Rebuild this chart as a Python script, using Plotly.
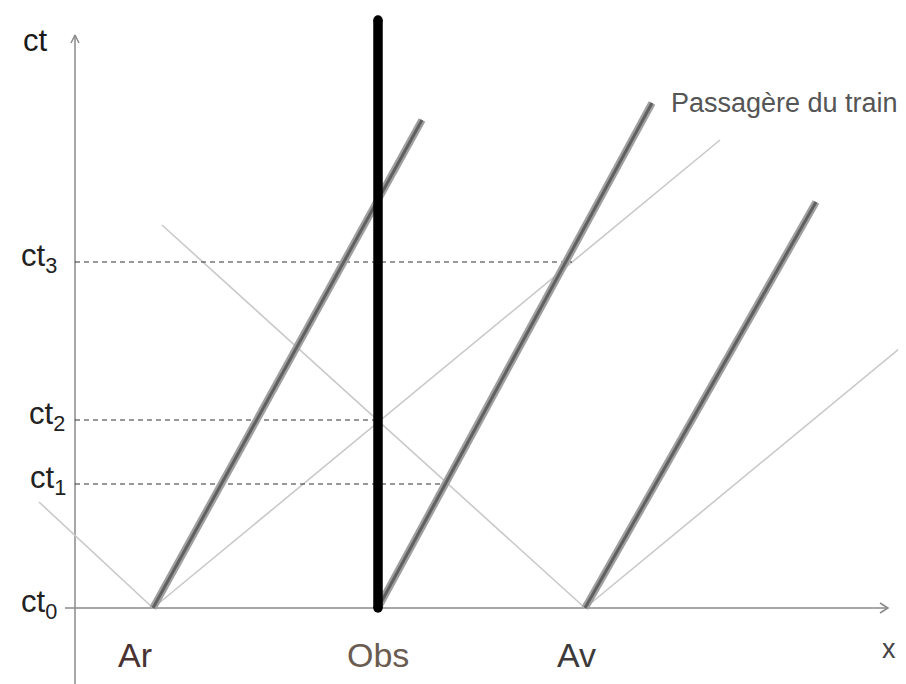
import plotly.graph_objects as go

# ---- data (units: diagram units, origin at axis crossing) ----
event_names = ["Ar", "Obs", "Av"]
event_x = [78, 303, 510]                 # positions on the x axis at ct0

ct_labels = ["ct<sub>0</sub>", "ct<sub>1</sub>", "ct<sub>2</sub>", "ct<sub>3</sub>"]
ct_values = [0, 124, 188, 346]
ct_dash_end_x = [0, 371, 303, 497]       # where each dashed guide stops (ct0 has none)

# train worldlines (start at events, end points)
train_end_x = [347, 577, 741]
train_end_y = [488, 505, 406]

# observer worldline
obs_top_y = 588

# light rays: emitted from Ar and Av, left and right
ray_src = ["Ar", "Ar", "Av", "Av"]
ray_end_x = [-36, 645, 87, 870]
ray_end_y = [106, 468, 383, 297]

# axes extents
xaxis_span = [-10, 813]
yaxis_span = [-90, 573]

fig = go.Figure()

AX = "#8a8a8a"
# axes
fig.add_trace(go.Scatter(x=xaxis_span, y=[0, 0], mode="lines",
                         line=dict(color=AX, width=1.5), hoverinfo="skip"))
fig.add_trace(go.Scatter(x=[0, 0], y=yaxis_span, mode="lines",
                         line=dict(color=AX, width=1.5), hoverinfo="skip"))
# arrow heads (open chevrons)
xe = xaxis_span[1]
fig.add_trace(go.Scatter(x=[xe - 8, xe, xe - 8], y=[5, 0, -5], mode="lines",
                         line=dict(color=AX, width=1.5), hoverinfo="skip"))
ye = yaxis_span[1]
fig.add_trace(go.Scatter(x=[-4, 0, 4], y=[ye - 8, ye, ye - 8], mode="lines",
                         line=dict(color=AX, width=1.5), hoverinfo="skip"))

# light rays
ex = dict(zip(event_names, event_x))
for s, x1, y1 in zip(ray_src, ray_end_x, ray_end_y):
    fig.add_trace(go.Scatter(x=[ex[s], x1], y=[0, y1], mode="lines",
                             line=dict(color="#c9c9c9", width=1.6), hoverinfo="skip"))

# dashed guides
for v, xe_ in zip(ct_values[1:], ct_dash_end_x[1:]):
    fig.add_trace(go.Scatter(x=[0, xe_], y=[v, v], mode="lines",
                             line=dict(color="#333333", width=1.2, dash="5px,4px"),
                             hoverinfo="skip"))

# train worldlines
for x0, x1, y1 in zip(event_x, train_end_x, train_end_y):
    fig.add_trace(go.Scatter(x=[x0, x1], y=[0, y1], mode="lines",
                             line=dict(color="#a0a0a0", width=7.5), hoverinfo="skip"))
    fig.add_trace(go.Scatter(x=[x0, x1], y=[0, y1], mode="lines",
                             line=dict(color="#606060", width=3), hoverinfo="skip"))

# observer worldline
fig.add_trace(go.Scatter(x=[ex["Obs"], ex["Obs"]], y=[0, obs_top_y], mode="lines+markers",
                         line=dict(color="#000000", width=9.5),
                         marker=dict(color="#000000", size=9.5),
                         hoverinfo="skip"))

FONT = "Liberation Sans"
ann = []
ann.append(dict(x=-40, y=568, text="ct", showarrow=False,
                font=dict(family=FONT, size=31, color="#1a1a1a")))
label_right = [-16, -7, -8, -16]
for lab, v, xr in zip(ct_labels, ct_values, label_right):
    ann.append(dict(x=xr, y=v + 4, text=lab, showarrow=False, xanchor="right",
                    font=dict(family=FONT, size=31, color="#222222")))
label_colors = ["#4a3232", "#6a5c50", "#3c3a3a"]
label_dx = [-18, 0, -9]
for n, x, c, d in zip(event_names, event_x, label_colors, label_dx):
    ann.append(dict(x=x + d, y=-47, text=n, showarrow=False,
                    font=dict(family=FONT, size=34, color=c)))
ann.append(dict(x=814, y=-41, text="x", showarrow=False,
                font=dict(family=FONT, size=27, color="#444444")))
ann.append(dict(x=594, y=505, text="Passagère du train", showarrow=False, xanchor="left",
                font=dict(family=FONT, size=27, color="#555555")))

fig.update_layout(
    width=906, height=684,
    margin=dict(l=0, r=0, t=0, b=0),
    paper_bgcolor="white", plot_bgcolor="white",
    showlegend=False,
    # page body adds an 8px offset; ranges compensate so the drawing lands where the reference has it
    xaxis=dict(range=[-67, 839], visible=False, fixedrange=True),
    yaxis=dict(range=[-84, 600], visible=False, fixedrange=True),
    annotations=ann,
)

fig.write_html("out.html")
